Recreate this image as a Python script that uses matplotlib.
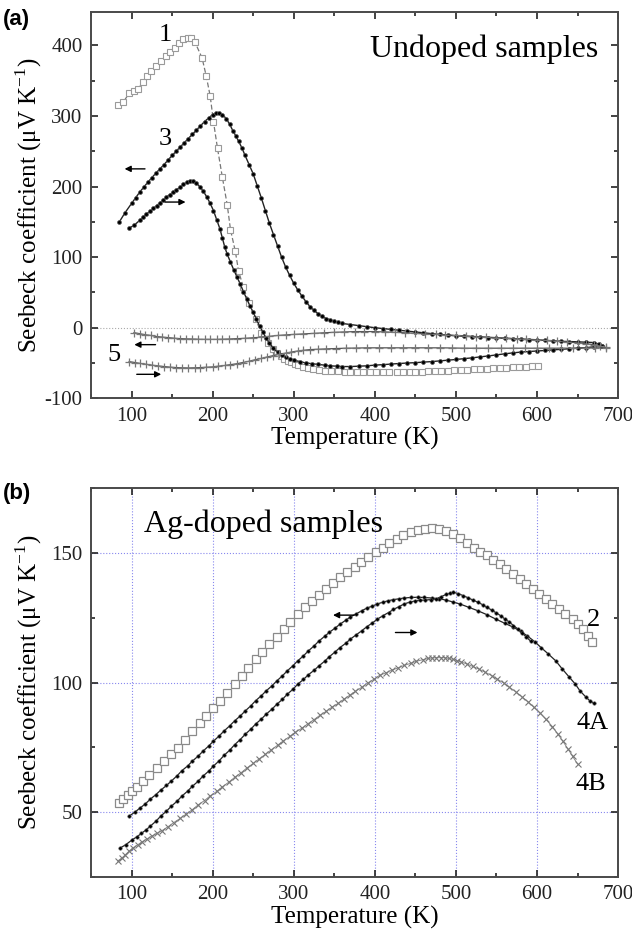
import matplotlib
matplotlib.use("Agg")
import matplotlib.pyplot as plt
from matplotlib.ticker import MultipleLocator

plt.rcParams['font.family'] = ['Liberation Serif', 'DejaVu Serif']
plt.rcParams['mathtext.fontset'] = 'custom'
plt.rcParams['mathtext.rm'] = 'Liberation Serif'
plt.rcParams['axes.unicode_minus'] = False

# ---- panel (a): undoped samples ----
s1_T = [83, 90, 97, 103, 108, 114, 119, 124, 130, 136, 142, 147, 153, 159, 164, 169, 173, 178,
        187, 192, 197, 201, 206, 212, 218, 222, 228, 232, 238, 245, 253, 260, 268, 274, 279, 284,
        288, 293, 297, 301, 305, 311, 318, 324, 331, 338, 346, 355, 363, 370, 378, 386, 394, 402,
        410, 418, 427, 435, 443, 450, 458, 466, 474, 482, 490, 498, 506, 514, 522, 530, 538, 546,
        554, 562, 570, 578, 586, 594, 601]
s1_S = [316, 320, 332, 335, 338, 348, 356, 364, 371, 378, 385, 391, 396, 404, 409, 410, 410, 405,
        382, 357, 328, 292, 254, 213, 174, 139, 108, 80, 57, 35, 12, -7, -22, -30, -36, -40,
        -44, -47, -49, -51, -53, -55, -57, -58.5, -60, -61, -61.5, -62, -62.5, -63, -63, -63, -63, -63,
        -63, -63, -63, -63, -62.8, -62.5, -62.3, -62, -61.8, -61.3, -61, -60.5, -60, -59.5, -59, -58.5, -58, -57.5,
        -57, -56.5, -56, -55.5, -55, -54.5, -54]

s3_up_T = [85, 92, 100, 105, 110, 115, 120, 125, 130, 135, 140, 145, 150, 155, 160, 165, 170, 175,
           180, 185, 190, 195, 200, 204, 208, 212, 217, 221, 225, 229, 232, 236, 240, 245, 250, 255,
           260, 265, 270, 275, 280, 285, 290, 295, 300, 305, 310, 315, 320, 325, 330, 335, 340, 345,
           350, 355, 360, 370, 380, 390, 400, 410, 420, 430, 440, 450, 460, 470, 480, 490, 500, 510,
           520, 530, 540, 550, 560, 570, 580, 590, 600, 610, 620, 630, 640, 650, 660, 670, 676, 680]
s3_up_S = [150, 163, 176, 184, 192, 199, 206, 212.5, 219, 225, 231, 237.5, 244, 250, 256, 262, 268, 274,
           280, 286, 292, 297, 302, 304, 304.5, 302, 296, 288, 279, 271, 264, 255, 244, 231, 218, 201,
           184, 166, 148, 132, 116, 100, 86, 74, 63, 53.5, 45, 37, 30, 24.5, 20, 16, 13, 11,
           9, 7.5, 6, 4.5, 3, 1.5, 0, -1.2, -2.4, -3.6, -4.8, -6, -7.2, -8.4, -9.5, -10.5, -11.5, -12,
           -12.7, -13.3, -14, -14.5, -15, -15.7, -16.3, -17, -17.5, -18, -18.7, -19.3, -19.6, -20, -20.5, -21, -23, -26]

s3_dn_T = [97, 103, 110, 114, 118, 123, 127, 131, 135, 139, 143, 147, 151, 155, 160, 164, 168, 172,
           176, 180, 184, 188, 193, 197, 201, 205, 209, 212, 215, 218, 222, 226, 230, 234, 238, 242,
           246, 250, 254, 258, 262, 266, 270, 275, 280, 285, 290, 295, 300, 308, 315, 323, 330, 338,
           345, 353, 360, 370, 380, 390, 400, 410, 420, 430, 440, 450, 460, 470, 480, 490, 500, 510,
           520, 530, 540, 550, 560, 570, 580, 590, 600, 610, 620, 630, 640, 650, 660, 670, 680]
s3_dn_S = [141, 145, 152, 156.5, 161, 165, 169, 173, 177, 181, 185, 188.5, 192, 195.5, 199, 203, 206, 208,
           208, 205, 200, 194, 185, 176, 166, 153, 140, 127, 114, 104, 93, 82, 72, 62, 51, 41,
           31, 22, 12, 2, -6, -15, -22, -29, -35, -39, -42, -44, -46, -48, -50, -51, -52, -53,
           -54, -54.5, -55, -55, -54.5, -54, -53, -52.3, -51.5, -50.7, -50, -49.5, -48.7, -48, -47, -46, -45, -43.8,
           -42.7, -41.3, -40, -38.5, -37, -35.7, -34.5, -33.7, -33, -32.2, -31.4, -30.6, -29.8, -29, -28.3, -27, -26]

s5_up_T = [103, 110, 117, 124, 131, 138, 145, 152, 160, 167, 175, 182, 190, 197, 205, 212, 220, 230,
           240, 250, 260, 270, 280, 290, 300, 312, 325, 337, 350, 362, 375, 387, 400, 412, 425, 437,
           450, 462, 475, 487, 500, 512, 525, 537, 550, 562, 575, 587, 600, 612, 625, 637, 650, 660,
           670, 678, 685]
s5_up_S = [-7, -8.5, -10, -11, -12.5, -13.3, -14, -14.8, -15.5, -15.8, -16, -16.3, -16.5, -16.5, -16.5, -16.3, -16, -15.5,
           -15, -14.2, -13.5, -12.2, -11, -10.2, -9.5, -8.8, -8, -7.2, -6.5, -6, -5.5, -5.5, -5.5, -6, -6.5, -7.2,
           -8, -8.8, -9.5, -10.2, -11, -11.8, -12.5, -13.2, -14, -14.8, -15.5, -16.2, -17, -18, -19, -20.2, -21.5, -22.8,
           -24, -26, -28]

s5_dn_T = [97, 104, 110, 118, 125, 132, 140, 147, 155, 162, 170, 178, 185, 192, 200, 207, 215, 222,
           230, 237, 245, 252, 260, 267, 275, 282, 290, 297, 305, 312, 320, 330, 340, 352, 365, 377,
           390, 405, 420, 435, 450, 465, 480, 495, 510, 525, 540, 555, 570, 585, 600, 615, 630, 645,
           660, 672, 685]
s5_dn_S = [-48, -49.3, -50.5, -51.8, -53, -54, -55, -55.8, -56.5, -56.8, -57, -56.8, -56.5, -56, -55.5, -54.5, -53.5, -52.3,
           -51, -49.3, -47.5, -45.5, -43.5, -41.5, -39.5, -37.7, -36, -34.5, -33, -32, -31, -30.5, -30, -29.5, -29, -28.8,
           -28.5, -28.5, -28.5, -28.5, -28.5, -28.5, -28.5, -28.7, -29, -29, -29, -29, -29, -29, -29, -29, -29, -29,
           -28.5, -28.5, -28.5]

# ---- panel (b): Ag-doped samples ----
s2_T = [85, 90, 96, 101, 107, 114, 122, 131, 140, 149, 157, 166, 175, 184, 192, 201, 209, 218,
        227, 236, 244, 253, 261, 270, 279, 288, 296, 305, 314, 323, 331, 340, 348, 357, 366, 375,
        383, 392, 401, 410, 418, 427, 435, 444, 453, 462, 470, 479, 488, 497, 505, 514, 522, 530,
        538, 546, 554, 562, 570, 579, 587, 595, 603, 611, 619, 627, 635, 644, 651, 657, 663, 668]
s2_S = [53.4, 55, 56.5, 58, 59.8, 62, 64.3, 67, 69.6, 72.3, 74.9, 78, 81.2, 84.5, 87.2, 90.3, 93, 96,
        99.3, 102.6, 105.8, 109, 111.8, 114.8, 117.7, 120.6, 123.4, 126.4, 129, 131.6, 133.8, 136, 138.4, 140.6, 142.6, 144.5,
        146.4, 148.3, 150.2, 152, 153.8, 155.4, 156.8, 158, 158.8, 159.3, 159.5, 159.3, 158.5, 157.3, 155.8, 154, 152, 150.5,
        149, 147.3, 145.6, 143.8, 141.8, 140, 138, 136, 134.3, 132.3, 130.4, 128.4, 126.4, 124.5, 122.6, 120.6, 118, 115.6]

s4a_up_T = [97, 104, 110, 117, 123, 130, 136, 143, 149, 156, 162, 169, 175, 182, 188, 195, 201, 208,
            214, 221, 227, 234, 240, 247, 253, 260, 266, 273, 279, 286, 292, 299, 305, 312, 318, 325,
            331, 338, 344, 351, 357, 364, 370, 377, 384, 390, 397, 403, 410, 416, 423, 430, 436, 444,
            453, 461, 470, 479, 488, 496, 505, 516, 527, 538, 549, 560, 571, 580, 588, 597, 605, 614,
            623, 631, 640, 647, 653, 660, 665, 670]
s4a_up_S = [48.5, 50, 51.5, 53.2, 55, 56.8, 58.5, 60.3, 62, 64, 66, 67.8, 69.7, 71.6, 73.5, 75.5, 77.4, 79.4,
            81.3, 83.3, 85.2, 87.1, 89, 91, 93, 94.9, 96.8, 98.7, 100.6, 102.6, 104.5, 106.5, 108.4, 110.3, 112.2, 114.1,
            116, 117.8, 119.4, 121, 122.5, 124, 125.3, 126.5, 127.7, 128.7, 129.5, 130.3, 131, 131.5, 132, 132.3, 132.6, 132.8,
            132.9, 132.8, 132.6, 132.3, 131.8, 131.1, 130.3, 129, 127.7, 126.2, 124.5, 122.9, 121.3, 119.7, 118, 115.8, 113.5, 111,
            108.4, 105.3, 102, 99.5, 96.8, 94.5, 93, 92]

s4a_dn_T = [86, 93, 101, 107, 112, 118, 123, 130, 136, 143, 149, 156, 162, 169, 175, 182, 188, 195,
            201, 208, 214, 221, 227, 234, 240, 247, 253, 260, 266, 273, 279, 286, 292, 299, 305, 312,
            318, 325, 331, 338, 344, 351, 357, 364, 370, 377, 384, 390, 397, 403, 410, 417, 423, 430,
            436, 443, 450, 456, 462, 469, 475, 481, 488, 493, 497, 503, 509, 515, 521, 527, 533, 538,
            544, 549, 555, 560, 566, 571, 577, 582, 587, 592]
s4a_dn_S = [36.2, 37.5, 39.4, 40.6, 41.8, 43.2, 44.6, 46.5, 48.5, 50.4, 52.3, 54.2, 56.2, 58.1, 60, 61.9, 63.9, 65.8,
            67.8, 69.8, 71.9, 73.9, 76, 78, 80, 82, 84, 85.9, 87.8, 89.7, 91.6, 93.5, 95.5, 97.4, 99.4, 101.2,
            103, 104.7, 106.4, 108.2, 110, 111.8, 113.5, 115.1, 116.8, 118.4, 120, 121.5, 123, 124.4, 125.8, 127, 128.2, 129.3,
            130.3, 131, 131.5, 131.7, 131.8, 132, 132.2, 133, 134, 134.5, 134.8, 134.3, 133.5, 132.7, 131.8, 131, 130, 129,
            128, 127, 125.8, 124.6, 123.3, 122, 120.5, 119, 117.5, 116]

s4b_T = [83, 88, 92, 97, 102, 108, 113, 119, 125, 131, 137, 145, 152, 160, 167, 175, 182, 190,
         197, 205, 212, 220, 227, 235, 242, 250, 257, 265, 272, 280, 287, 295, 302, 310, 317, 325,
         332, 340, 347, 355, 362, 369, 376, 384, 391, 399, 406, 414, 421, 429, 436, 444, 451, 459,
         466, 471, 476, 481, 486, 491, 496, 501, 506, 514, 521, 529, 536, 544, 551, 559, 566, 574,
         581, 589, 596, 604, 611, 619, 626, 632, 638, 644, 650]
s4b_S = [31.2, 32.3, 33.5, 35, 36.3, 37.5, 38.6, 39.7, 40.8, 41.8, 42.8, 44.4, 46, 47.6, 49.2, 51, 52.8, 54.5,
         56.3, 58, 59.8, 61.6, 63.4, 65.2, 67, 68.8, 70.5, 72.3, 74, 75.8, 77.5, 79.2, 80.8, 82.4, 84, 85.7,
         87.3, 88.9, 90.5, 92, 93.6, 95.1, 96.6, 98.2, 99.8, 101.3, 102.8, 103.8, 104.8, 105.7, 106.6, 107.4, 108.2, 108.8,
         109.3, 109.5, 109.6, 109.6, 109.6, 109.3, 109, 108.5, 108, 107.1, 106.2, 105.1, 104, 102.7, 101.3, 99.8, 98.2, 96.4,
         94.6, 92.6, 90.5, 88.2, 85.8, 83, 80, 77.3, 74.5, 71.5, 68.6]

fig = plt.figure(figsize=(6.32, 9.35), dpi=100)
ax1 = fig.add_axes([0.144, 0.574, 0.834, 0.413])
ax2 = fig.add_axes([0.144, 0.062, 0.834, 0.416])

spine_col = '#4a4a4a'
for ax in (ax1, ax2):
    for sp in ax.spines.values():
        sp.set_linewidth(1.4)
        sp.set_color(spine_col)
    ax.tick_params(which='both', direction='in', top=True, right=True,
                   labelsize=15, colors='#222222', width=1.2, pad=6)
    ax.tick_params(which='major', length=5)
    ax.tick_params(which='minor', length=3)
    ax.set_xlim(50, 700)
    ax.xaxis.set_major_locator(MultipleLocator(100))
    ax.xaxis.set_minor_locator(MultipleLocator(50))
    ax.set_xlabel('Temperature (K)', fontsize=18, labelpad=1)
    ax.set_ylabel('Seebeck coefficient (μV K$^{-1}$)', fontsize=18)
    ax.yaxis.set_label_coords(-0.09, 0.5)

# panel (a)
ax1.set_ylim(-100, 447)
ax1.yaxis.set_major_locator(MultipleLocator(100))
ax1.yaxis.set_minor_locator(MultipleLocator(50))
ax1.axhline(0, color='#aaaaaa', lw=0.8, ls=':', zorder=1)

ax1.plot(s1_T, s1_S, ls='--', dashes=(4, 2), color='#777777', lw=0.9,
         marker='s', ms=3.8, mfc='white', mec='#9a9a9a', mew=0.8)
for T, S in ((s3_up_T, s3_up_S), (s3_dn_T, s3_dn_S)):
    ax1.plot(T, S, ls='-', color='#222222', lw=1.0,
             marker='o', ms=2.8, mfc='black', mec='#555555', mew=0.5)
for T, S in ((s5_up_T, s5_up_S), (s5_dn_T, s5_dn_S)):
    ax1.plot(T, S, ls='-', color='#555555', lw=0.9,
             marker='+', ms=6, mec='#777777', mew=0.9)

arr = dict(arrowstyle='-|>', color='black', lw=1.0, mutation_scale=9)
ax1.annotate('', xy=(88, 225), xytext=(120, 225), arrowprops=arr)
ax1.annotate('', xy=(170, 178), xytext=(138, 178), arrowprops=arr)
ax1.annotate('', xy=(100, -24), xytext=(133, -24), arrowprops=arr)
ax1.annotate('', xy=(140, -66), xytext=(103, -66), arrowprops=arr)
ax1.text(141, 414, '1', fontsize=19, ha='center', va='center')
ax1.text(141, 267, '3', fontsize=19, ha='center', va='center')
ax1.text(78, -38, '5', fontsize=19, ha='center', va='center')
ax1.text(676, 395, 'Undoped samples', fontsize=23, ha='right', va='center')

# panel (b)
ax2.set_ylim(25, 175)
ax2.yaxis.set_major_locator(MultipleLocator(50))
ax2.yaxis.set_minor_locator(MultipleLocator(25))
ax2.grid(True, which='major', color='#8888ee', ls=':', lw=0.8)
ax2.set_axisbelow(True)

ax2.plot(s2_T, s2_S, ls='none', marker='s', ms=5.5, mfc='white', mec='#8a8a8a', mew=0.9)
for T, S in ((s4a_up_T, s4a_up_S), (s4a_dn_T, s4a_dn_S)):
    ax2.plot(T, S, ls='-', color='#222222', lw=0.9,
             marker='o', ms=2.5, mfc='black', mec='#555555', mew=0.4)
ax2.plot(s4b_T, s4b_S, ls='-', color='#888888', lw=0.7,
         marker='x', ms=4, mec='#777777', mew=0.8)

ax2.annotate('', xy=(345, 126), xytext=(378, 126), arrowprops=arr)
ax2.annotate('', xy=(456, 119.3), xytext=(422, 119.3), arrowprops=arr)
ax2.text(670, 124, '2', fontsize=19, ha='center', va='center')
ax2.text(668, 84.5, '4A', fontsize=19, ha='center', va='center')
ax2.text(666, 61, '4B', fontsize=19, ha='center', va='center')
ax2.text(115, 161, 'Ag-doped samples', fontsize=23, ha='left', va='center')

fig.text(0.005, 0.99, '(a)', fontsize=16, fontweight='bold', family='Liberation Sans',
         ha='left', va='top')
fig.text(0.005, 0.483, '(b)', fontsize=16, fontweight='bold', family='Liberation Sans',
         ha='left', va='top')

fig.savefig('out.png', dpi=100)
